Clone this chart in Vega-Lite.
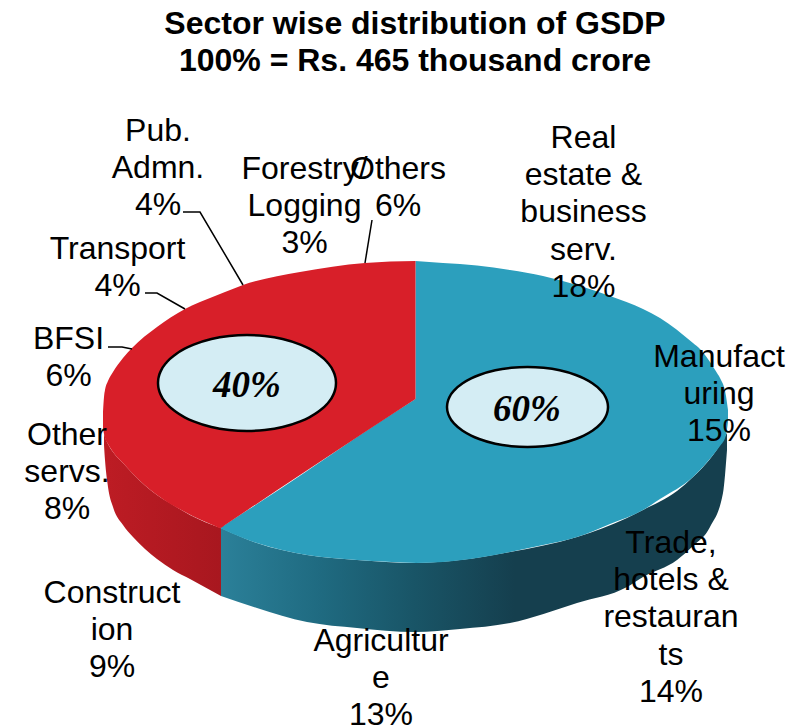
{"$schema":"https://vega.github.io/schema/vega-lite/v6.json","width":791,"height":728,"padding":0,"autosize":{"type":"none"},"background":"white","config":{"view":{"stroke":null}},"encoding":{"x":{"field":"x","type":"quantitative","scale":{"domain":[0,791]},"axis":null},"y":{"field":"y","type":"quantitative","scale":{"domain":[728,0]},"axis":null}},"layer":[
{"data":{"values":[{"x":104,"y":433,"y2":445},{"x":105,"y":437,"y2":460},{"x":108,"y":444,"y2":487},{"x":113,"y":452,"y2":507},{"x":123,"y":463,"y2":525},{"x":133,"y":474,"y2":537},{"x":157,"y":495,"y2":559},{"x":173,"y":505,"y2":570},{"x":190,"y":515,"y2":579},{"x":221,"y":528,"y2":596}]},"mark":{"type":"area","orient":"vertical","interpolate":"monotone","color":{"gradient":"linear","x1":0,"x2":1,"y1":0,"y2":0,"stops":[{"offset":0,"color":"#bd1c24"},{"offset":1,"color":"#a8171f"}]}},"encoding":{"y2":{"field":"y2"}}},
{"data":{"values":[{"x":221,"y":528,"y2":596},{"x":257,"y":543,"y2":608},{"x":307,"y":555,"y2":622},{"x":357,"y":560,"y2":628},{"x":415,"y":563,"y2":632},{"x":460,"y":560,"y2":629},{"x":510,"y":552,"y2":623},{"x":577,"y":537,"y2":603},{"x":627,"y":518,"y2":587},{"x":643,"y":510,"y2":577},{"x":677,"y":491,"y2":560},{"x":693,"y":477,"y2":546},{"x":710,"y":459,"y2":527},{"x":723,"y":440,"y2":493},{"x":727,"y":433,"y2":450}]},"mark":{"type":"area","orient":"vertical","interpolate":"monotone","color":{"gradient":"linear","x1":0,"x2":1,"y1":0,"y2":0,"stops":[{"offset":0,"color":"#2b8099"},{"offset":0.2,"color":"#1f6a80"},{"offset":0.38,"color":"#195567"},{"offset":0.58,"color":"#153f4e"},{"offset":1,"color":"#153f4e"}]}},"encoding":{"y2":{"field":"y2"}}},
{"data":{"values":[{"p":"a","x":220,"y":528,"y2":528},{"p":"a","x":243,"y":513,"y2":538},{"p":"a","x":257,"y":504,"y2":543},{"p":"a","x":307,"y":471,"y2":555},{"p":"a","x":357,"y":437,"y2":560},{"p":"a","x":417,"y":398,"y2":563},{"p":"b","x":415.5,"y":261,"y2":563},{"p":"b","x":443,"y":263,"y2":562},{"p":"b","x":477,"y":265.5,"y2":558},{"p":"b","x":510,"y":270,"y2":552},{"p":"b","x":543,"y":276,"y2":545},{"p":"b","x":577,"y":285,"y2":537},{"p":"b","x":610,"y":296,"y2":524},{"p":"b","x":643,"y":309,"y2":510},{"p":"b","x":660,"y":318,"y2":499},{"p":"b","x":693,"y":343,"y2":477},{"p":"b","x":700,"y":349,"y2":470},{"p":"b","x":717,"y":373,"y2":450},{"p":"b","x":720,"y":378,"y2":446},{"p":"b","x":726,"y":396,"y2":435},{"p":"b","x":728,"y":410,"y2":422}]},"mark":{"type":"area","orient":"vertical","interpolate":"monotone","color":"#2c9fbd"},"encoding":{"y2":{"field":"y2"},"detail":{"field":"p"}}},
{"data":{"values":[{"x":103,"y":412,"y2":428},{"x":104,"y":397,"y2":434},{"x":105,"y":390,"y2":438},{"x":108,"y":381,"y2":444},{"x":113,"y":372,"y2":452},{"x":123,"y":358,"y2":463},{"x":132,"y":348,"y2":473},{"x":157,"y":327,"y2":495},{"x":185,"y":309,"y2":512},{"x":215,"y":296,"y2":526},{"x":220,"y":294,"y2":528},{"x":225,"y":292,"y2":525},{"x":243,"y":285,"y2":513},{"x":300,"y":272,"y2":475},{"x":365,"y":263,"y2":432},{"x":415.5,"y":261,"y2":399}]},"mark":{"type":"area","orient":"vertical","interpolate":"monotone","color":"#d81f29"},"encoding":{"y2":{"field":"y2"}}},
{"data":{"values":[{"e":"40","x":158,"y":383,"y2":383},{"e":"40","x":158.2,"y":380,"y2":386},{"e":"40","x":158.9,"y":376.2,"y2":389.8},{"e":"40","x":160.7,"y":371.3,"y2":394.7},{"e":"40","x":166.9,"y":362,"y2":404},{"e":"40","x":175.8,"y":354.2,"y2":411.8},{"e":"40","x":184.7,"y":348.7,"y2":417.3},{"e":"40","x":193.6,"y":344.6,"y2":421.4},{"e":"40","x":211.4,"y":339,"y2":427},{"e":"40","x":229.2,"y":336,"y2":430},{"e":"40","x":247,"y":335,"y2":431},{"e":"40","x":264.8,"y":336,"y2":430},{"e":"40","x":282.6,"y":339,"y2":427},{"e":"40","x":300.4,"y":344.6,"y2":421.4},{"e":"40","x":309.3,"y":348.7,"y2":417.3},{"e":"40","x":318.2,"y":354.2,"y2":411.8},{"e":"40","x":327.1,"y":362,"y2":404},{"e":"40","x":333.3,"y":371.3,"y2":394.7},{"e":"40","x":335.1,"y":376.2,"y2":389.8},{"e":"40","x":335.8,"y":380,"y2":386},{"e":"40","x":336,"y":383,"y2":383},{"e":"60","x":447,"y":407,"y2":407},{"e":"60","x":447.2,"y":404.5,"y2":409.5},{"e":"60","x":447.8,"y":401.4,"y2":412.6},{"e":"60","x":449.4,"y":397.3,"y2":416.7},{"e":"60","x":455,"y":389.6,"y2":424.4},{"e":"60","x":463.1,"y":383,"y2":431},{"e":"60","x":471.2,"y":378.4,"y2":435.6},{"e":"60","x":479.2,"y":375,"y2":439},{"e":"60","x":495.3,"y":370.3,"y2":443.7},{"e":"60","x":511.4,"y":367.8,"y2":446.2},{"e":"60","x":527.5,"y":367,"y2":447},{"e":"60","x":543.6,"y":367.8,"y2":446.2},{"e":"60","x":559.7,"y":370.3,"y2":443.7},{"e":"60","x":575.8,"y":375,"y2":439},{"e":"60","x":583.8,"y":378.4,"y2":435.6},{"e":"60","x":591.9,"y":383,"y2":431},{"e":"60","x":600,"y":389.6,"y2":424.4},{"e":"60","x":605.6,"y":397.3,"y2":416.7},{"e":"60","x":607.2,"y":401.4,"y2":412.6},{"e":"60","x":607.8,"y":404.5,"y2":409.5},{"e":"60","x":608,"y":407,"y2":407}]},"mark":{"type":"area","orient":"vertical","interpolate":"monotone","color":"#d4edf4","stroke":"#000000","strokeWidth":2.5},"encoding":{"y2":{"field":"y2"},"detail":{"field":"e"}}},
{"data":{"values":[{"s":"Others","o":1,"x":372,"y":220},{"s":"Others","o":2,"x":365,"y":263},{"s":"Pub. Admn.","o":1,"x":183,"y":212},{"s":"Pub. Admn.","o":2,"x":200,"y":212},{"s":"Pub. Admn.","o":3,"x":243,"y":285},{"s":"Transport","o":1,"x":145,"y":293},{"s":"Transport","o":2,"x":157,"y":293},{"s":"Transport","o":3,"x":185,"y":309},{"s":"BFSI","o":1,"x":108,"y":347},{"s":"BFSI","o":2,"x":122,"y":347},{"s":"BFSI","o":3,"x":132,"y":349}]},"mark":{"type":"line","color":"#000000","strokeWidth":1.5},"encoding":{"detail":{"field":"s"},"order":{"field":"o","type":"quantitative"}}},
{"data":{"values":[{"t":"Real\nestate &\nbusiness\nserv.\n18%","x":583.5,"y":148},{"t":"Pub.\nAdmn.\n4%","x":158,"y":141},{"t":"Forestry/\nLogging\n3%","x":304.5,"y":179},{"t":"Others\n6%","x":398,"y":179},{"t":"Transport\n4%","x":117.5,"y":259},{"t":"BFSI\n6%","x":68.5,"y":349},{"t":"Other\nservs.\n8%","x":67,"y":445},{"t":"Construct\nion\n9%","x":112,"y":603},{"t":"Agricultur\ne\n13%","x":381,"y":651},{"t":"Trade,\nhotels &\nrestauran\nts\n14%","x":671,"y":553},{"t":"Manufact\nuring\n15%","x":719,"y":367}]},"mark":{"type":"text","align":"center","baseline":"alphabetic","lineBreak":"\n","lineHeight":37.2,"font":"Liberation Sans","fontSize":32,"color":"#000000"},"encoding":{"text":{"field":"t"}}},
{"data":{"values":[{"t":"40%","x":247,"y":397},{"t":"60%","x":527,"y":421}]},"mark":{"type":"text","align":"center","baseline":"alphabetic","font":"Liberation Serif","fontSize":37,"fontWeight":"bold","fontStyle":"italic","color":"#000000"},"encoding":{"text":{"field":"t"}}},
{"data":{"values":[{"t":"Sector wise distribution of GSDP\n100% = Rs. 465 thousand crore","x":415,"y":33.5}]},"mark":{"type":"text","align":"center","baseline":"alphabetic","lineBreak":"\n","lineHeight":37,"font":"Liberation Sans","fontSize":32,"fontWeight":"bold","color":"#000000"},"encoding":{"text":{"field":"t"}}}
]}
